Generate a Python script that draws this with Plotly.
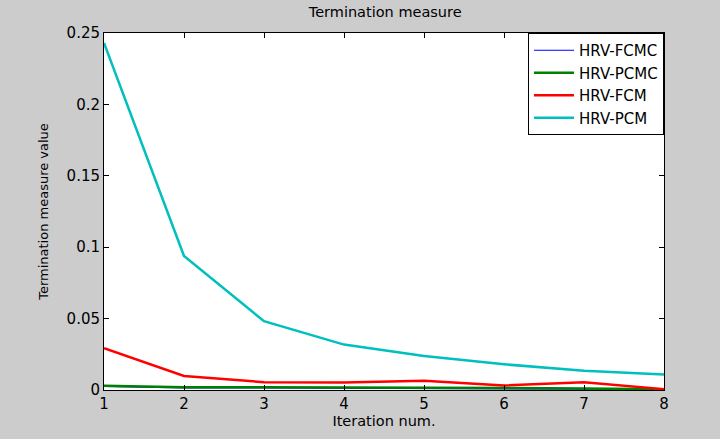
import plotly.graph_objects as go

iterations = [1, 2, 3, 4, 5, 6, 7, 8]
hrv_fcmc = [0.0025, 0.0015, 0.0015, 0.0012, 0.0011, 0.0010, 0.0008, 0.0004]
hrv_pcmc = [0.0030, 0.0020, 0.0020, 0.0019, 0.0018, 0.0014, 0.0010, 0.0005]
hrv_fcm = [0.0292, 0.0098, 0.0055, 0.0052, 0.0064, 0.0032, 0.0055, 0.0006]
hrv_pcm = [0.2430, 0.0938, 0.0482, 0.0318, 0.0238, 0.0180, 0.0134, 0.0108]

series = [
    ("HRV-FCMC", hrv_fcmc, "#0000ff", 1.2),
    ("HRV-PCMC", hrv_pcmc, "#008000", 2.5),
    ("HRV-FCM", hrv_fcm, "#ff0000", 2.5),
    ("HRV-PCM", hrv_pcm, "#00bfbf", 2.5),
]

fig = go.Figure()
for name, vals, color, w in series:
    fig.add_trace(go.Scatter(x=iterations, y=vals, mode="lines", name=name,
                             line=dict(color=color, width=w)))

fam = "DejaVu Sans, Liberation Sans, sans-serif"
axis_common = dict(showline=True, linecolor="black", linewidth=1, mirror="ticks",
                   ticks="inside", ticklen=5, tickcolor="black", showgrid=False,
                   zeroline=False, tickfont=dict(family=fam, size=15, color="#000"))

fig.update_layout(
    width=720, height=439,
    paper_bgcolor="#cccccc", plot_bgcolor="#ffffff",
    margin=dict(l=104, r=56, t=33, b=49),
    title=dict(text="Termination measure", x=0.535, xanchor="center", y=0.985, yanchor="top",
               font=dict(family=fam, size=14.5, color="#000")),
    xaxis=dict(range=[1, 8], tickvals=iterations,
               title=dict(text="Iteration num.", font=dict(family=fam, size=14.5, color="#000"), standoff=1),
               **axis_common),
    yaxis=dict(range=[0, 0.25], tickvals=[0, 0.05, 0.1, 0.15, 0.2, 0.25],
               ticktext=["0", "0.05", "0.1", "0.15", "0.2", "0.25"],
               title=dict(text="Termination measure value", font=dict(family=fam, size=13, color="#000"), standoff=15),
               **axis_common),
    legend=dict(x=1, y=1, xanchor="right", yanchor="top", bgcolor="white",
                bordercolor="black", borderwidth=1, font=dict(family=fam, size=15, color="#000"),
                tracegroupgap=0, itemwidth=40),
    showlegend=True,
)

fig.write_html("out.html")
